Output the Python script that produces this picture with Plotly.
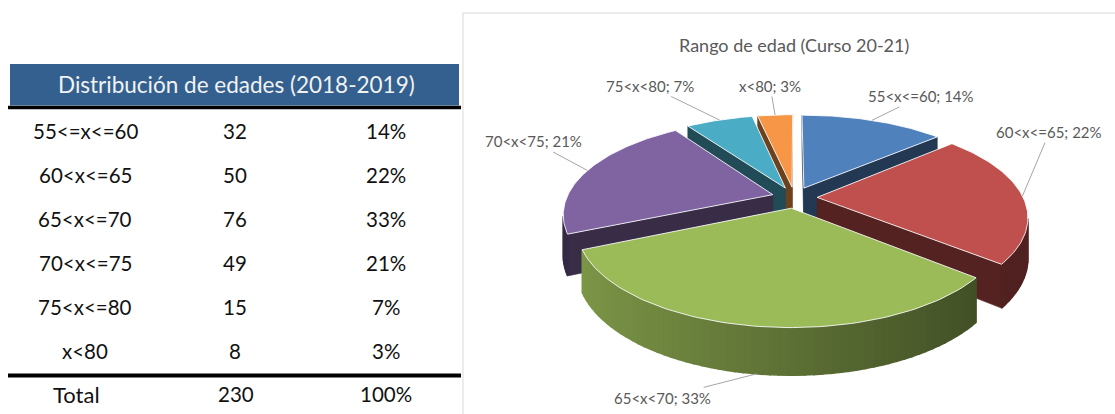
import numpy as np
import plotly.graph_objects as go

# ---- Table: age distribution 2018-2019 ----
table_title = "Distribución de edades (2018-2019)"
table_ranges = ["55<=x<=60", "60<x<=65", "65<x<=70", "70<x<=75", "75<x<=80", "x<80"]
table_counts = [32, 50, 76, 49, 15, 8]
total_label = "Total"

# ---- Pie: age range, course 20-21 ----
pie_title = "Rango de edad (Curso 20-21)"
pie_labels = ["55<x<=60", "60<x<=65", "65<x<70", "70<x<75", "75<x<80", "x<80"]
pie_values = [32, 50, 76, 49, 15, 8]
pie_colors = ["#4F81BD", "#C0504D", "#9BBB59", "#8064A2", "#4BACC6", "#F79646"]

W, H = 1115, 414
FONT = "Lato"

fig = go.Figure()

# ---------------------------------------------------------------- table
total = sum(table_counts)
pcts = [round(c / total * 100) for c in table_counts]

TBL_X0, TBL_X1 = 8, 461
COL_X = [85, 235, 386]
ROW_Y0, ROW_DY = 130.5, 44.1

fig.add_shape(type="rect", x0=10, x1=459, y0=64, y1=105.5,
              fillcolor="#33608F", line_width=0, layer="below")
fig.add_annotation(x=236, y=84.5, text=table_title, showarrow=False,
                   font=dict(family=FONT, size=22.5, color="#F2F2F2"))
fig.add_shape(type="line", x0=TBL_X0, x1=TBL_X1, y0=107.5, y1=107.5,
              line=dict(color="black", width=3.5))
fig.add_shape(type="line", x0=TBL_X0, x1=TBL_X1, y0=375.5, y1=375.5,
              line=dict(color="black", width=4))

for i, (rng, cnt, pct) in enumerate(zip(table_ranges, table_counts, pcts)):
    y = ROW_Y0 + i * ROW_DY
    for x, txt in zip(COL_X, [rng, str(cnt), f"{pct}%"]):
        fig.add_annotation(x=x, y=y, text=txt, showarrow=False,
                           font=dict(family=FONT, size=20.5, color="#111111"))

y_tot = 394
for x, txt, fs in zip([76, 236, 386], [total_label, str(total), f"{sum(pcts)}%"], [22, 20.5, 20.5]):
    fig.add_annotation(x=x, y=y_tot, text=txt, showarrow=False,
                       font=dict(family=FONT, size=fs, color="#111111"))

# ---------------------------------------------------------------- chart frame + title
fig.add_shape(type="rect", x0=463, x1=1125, y0=13, y1=425,
              line=dict(color="#D9D9D9", width=1), fillcolor="rgba(0,0,0,0)")
fig.add_annotation(x=794, y=45, text=pie_title, showarrow=False,
                   font=dict(family=FONT, size=18, color="#595959"))

# ---------------------------------------------------------------- 3D exploded pie
CX, CY = 794.5, 197.5       # centre of the top face
RX, RY = 206.0, 96.0        # ellipse radii of the top face
PERSP = 0.2                 # front-to-back perspective scaling
DEPTH = 39.0                # thickness of the disc
EXPLODE = 0.11              # radial offset of each slice (unit radius)


def project(u, v, z):
    s = 1 + PERSP * v
    return CX + RX * u * s, CY + RY * v * s + DEPTH * s * z


def shade(hexcol, f):
    h = hexcol.lstrip("#")
    r, g, b = (int(h[k:k + 2], 16) for k in (0, 2, 4))
    f = max(0.0, min(1.0, f))
    return f"rgb({int(r * f)},{int(g * f)},{int(b * f)})"


def signed_area(xs, ys):
    a = 0.0
    n = len(xs)
    for k in range(n):
        a += xs[k] * ys[(k + 1) % n] - xs[(k + 1) % n] * ys[k]
    return a / 2


def add_poly(pts, color, line_color=None, line_width=1.5):
    xs = [p[0] for p in pts] + [pts[0][0]]
    ys = [p[1] for p in pts] + [pts[0][1]]
    fig.add_trace(go.Scatter(x=xs, y=ys, mode="lines", fill="toself",
                             fillcolor=color,
                             line=dict(color=line_color or color, width=line_width),
                             hoverinfo="skip", showlegend=False))


vals = np.array(pie_values, dtype=float)
fr = vals / vals.sum()
ends = np.cumsum(fr) * 2 * np.pi
starts = ends - fr * 2 * np.pi

slices = []
for i in range(len(vals)):
    a0, a1 = starts[i], ends[i]
    mid = (a0 + a1) / 2
    ou, ov = EXPLODE * np.sin(mid), -EXPLODE * np.cos(mid)
    slices.append(dict(i=i, a0=a0, a1=a1, mid=mid, ou=ou, ov=ov))

# back-to-front painting order
for s in sorted(slices, key=lambda d: d["ov"]):
    i, a0, a1, ou, ov = s["i"], s["a0"], s["a1"], s["ou"], s["ov"]
    col = pie_colors[i]
    front_slice = a0 <= np.pi <= a1

    def rim(t, z):
        return project(ou + np.sin(t), ov - np.cos(t), z)

    apex_t = project(ou, ov, 0)
    apex_b = project(ou, ov, 1)

    # radial walls
    walls = [
        [apex_t, rim(a0, 0), rim(a0, 1), apex_b],
        [rim(a1, 0), apex_t, apex_b, rim(a1, 1)],
    ]
    for w in walls:
        if signed_area([p[0] for p in w], [p[1] for p in w]) < 0:
            add_poly(w, shade(col, 0.44), line_width=0.6)

    # curved outer wall, split into strips (lit from the left on the front slice)
    nseg = max(4, int(np.degrees(a1 - a0) / 2))
    th = np.linspace(a0, a1, nseg + 1)
    for k in range(nseg):
        q = [rim(th[k], 0), rim(th[k + 1], 0), rim(th[k + 1], 1), rim(th[k], 1)]
        if signed_area([p[0] for p in q], [p[1] for p in q]) < 0:
            tm = (th[k] + th[k + 1]) / 2
            f = 0.6 - 0.22 * np.sin(tm) if front_slice else 0.42
            add_poly(q, shade(col, f))

    # top face
    tt = np.linspace(a0, a1, 80)
    top = [apex_t] + [rim(t, 0) for t in tt]
    add_poly(top, col, line_color="rgba(255,255,255,0.85)", line_width=1)

    s["anchor_top"] = rim(s["mid"], 0)
    s["anchor_bot"] = rim(s["mid"], 1)

# data labels with leader lines
label_offsets = [(49, -24), (27, -64), (-94, 24), (-54, -29), (-70, -34), (-5, -29)]
for s in slices:
    i = s["i"]
    ax_, ay_ = label_offsets[i]
    px, py = s["anchor_bot"] if np.cos(s["mid"]) < -0.5 else s["anchor_top"]
    fig.add_annotation(x=px, y=py, ax=ax_, ay=ay_, showarrow=True,
                       arrowhead=0, arrowwidth=1, arrowcolor="#A6A6A6", standoff=0,
                       text=f"{pie_labels[i]}; {round(fr[i] * 100)}%",
                       font=dict(family=FONT, size=15, color="#595959"))

fig.update_layout(
    width=W, height=H,
    margin=dict(l=0, r=0, t=0, b=0),
    paper_bgcolor="white", plot_bgcolor="white",
    xaxis=dict(range=[0, W], visible=False, domain=[0, 1], fixedrange=True),
    yaxis=dict(range=[H, 0], visible=False, domain=[0, 1], fixedrange=True),
    showlegend=False,
)

fig.write_html("out.html")
